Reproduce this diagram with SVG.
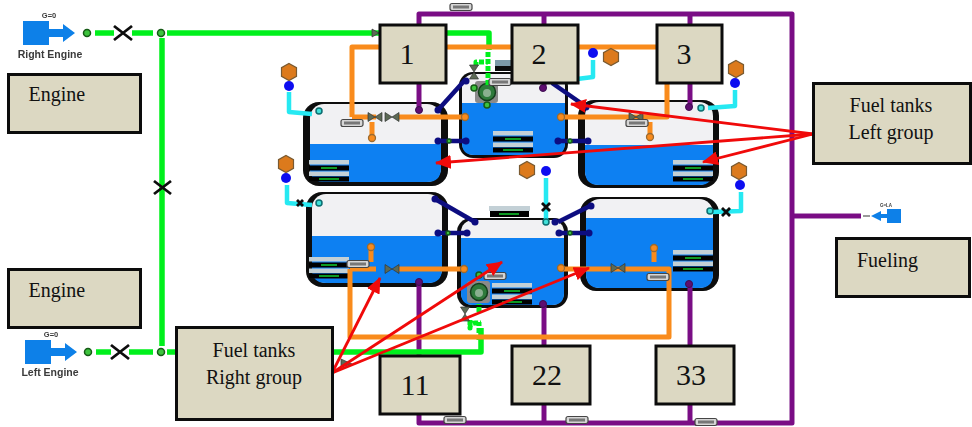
<svg xmlns="http://www.w3.org/2000/svg" width="972" height="427" viewBox="0 0 972 427">
<style>
.sh{filter:url(#soft)}
.tb{fill:#0a0a0a}.te{fill:#f1f1f3}.tw{fill:#0b80f2}
.p{fill:none;stroke-linejoin:round;stroke-linecap:butt}
.gr{stroke:#06f01e;stroke-width:5.500}.or{stroke:#f98b1c;stroke-width:5}.pu{stroke:#7a0f85;stroke-width:5}
.na{stroke:#0b0b80;stroke-width:4.500}.cy{stroke:#25e9f2;stroke-width:4.500}.da{stroke:#06f01e;stroke-width:5;stroke-dasharray:5 2}
.ro{fill:#c3d0d6}.rb{fill:#050505}.rg{fill:#0a9a20}
.pill{fill:#d6d6d6;stroke:#444;stroke-width:1.200}.pi2{fill:#777}
.ng{fill:#3cc33c;stroke:#175a17;stroke-width:1.500}.no{fill:#f98b1c;stroke:#9a6a30;stroke-width:1.300}.npu{fill:#5e0f70;stroke:#3c0a50;stroke-width:1}
.nn{fill:#0b0b80}.nc{fill:#3fe0d8;stroke:#0d6d70;stroke-width:1.500}.nb{fill:#0a0af0}
.hex{fill:#dc7a1e;stroke:#7a5a30;stroke-width:1.200}
.bw{fill:#5c6a55;stroke:#333;stroke-width:.7}
.x{fill:none;stroke:#0c0c0c;stroke-width:2.800}
.eng{fill:#0b80e8}
.sm{font-family:"Liberation Sans",Arial,sans-serif;font-weight:700;fill:#3a3a3a}
.box{fill:#dcd8c2;stroke:#0c0c0c;stroke-width:3}
.lb{font-family:"Liberation Serif","Times New Roman",serif;fill:#111;font-size:20px}
.lg{font-size:30px}.m{text-anchor:middle}
.ar{stroke:#f00a0a;stroke-width:2.800;fill:none}.ah{fill:#f00a0a}
</style>
<defs>
<filter id="soft" x="-5%" y="-5%" width="110%" height="110%"><feGaussianBlur stdDeviation="0.6"/></filter>
<marker id="head" markerUnits="userSpaceOnUse" markerWidth="16" markerHeight="14" refX="15" refY="7" orient="auto"><path class="ah" d="M0 0L16 7L0 14Z"/></marker>
<g id="read"><rect class="ro" width="40" height="4.500"/><rect class="rb" y="5.500" width="40" height="5"/><rect class="rg" x="12" y="7" width="16" height="2"/><rect class="ro" y="11.500" width="40" height="4.500"/><rect class="rb" y="16.500" width="40" height="5"/><rect class="rg" x="10" y="18" width="20" height="2"/></g>
<g id="pill"><rect class="pill" x="-11" y="-3.500" width="22" height="7" rx="2"/><rect class="pi2" x="-8" y="-1.500" width="16" height="3"/></g>
<g id="valve"><path class="bw" d="M-7 -4.500L7 4.500V-4.500L-7 4.500Z"/></g>
<g id="hexn"><path class="hex" d="M0 -8.500L7.500 -4.300V4.300L0 8.500L-7.500 4.300V-4.300Z"/></g>
<g id="pump"><rect x="-12" y="-11" width="23" height="22" rx="3" fill="#8a8a8a"/><circle r="8.500" fill="#2f7a3a" stroke="#143e1c" stroke-width="1.500"/><circle r="4" cy="1" fill="#8ab090"/></g>
</defs>

<g id="tank-left-top" class="sh">
<rect class="tb" x="303" y="102" width="145" height="84" rx="16"/>
<rect class="te" x="310" y="104" width="131" height="78" rx="14"/>
<path class="tw" d="M310 144H441V168Q441 182 427 182H324Q310 182 310 168Z"/>
<use href="#read" x="309" y="160"/>
</g>
<g id="tank-mid-top" class="sh">
<rect class="tb" x="459" y="72" width="109" height="86" rx="14"/>
<rect class="te" x="462" y="74" width="103" height="81" rx="12"/>
<path class="tw" d="M462 103H565V143Q565 155 553 155H474Q462 155 462 143Z"/>
<use href="#read" x="493" y="131"/>
<use href="#pump" x="487" y="92"/>
<circle class="ng" cx="487" cy="105" r="3"/>
</g>
<g id="tank-right-top" class="sh">
<rect class="tb" x="578" y="100" width="141" height="88" rx="16"/>
<rect class="te" x="585" y="102" width="128" height="83" rx="14"/>
<path class="tw" d="M585 145H713V171Q713 185 699 185H599Q585 185 585 171Z"/>
<use href="#read" x="673" y="160"/>
</g>
<g id="tank-left-bottom" class="sh">
<rect class="tb" x="306" y="192" width="142" height="95" rx="16"/>
<rect class="te" x="312" y="194" width="130" height="89" rx="14"/>
<path class="tw" d="M312 236H442V269Q442 283 428 283H326Q312 283 312 269Z"/>
<use href="#read" x="309" y="257"/>
</g>
<g id="tank-mid-bottom" class="sh">
<rect class="tb" x="457" y="218" width="111" height="90" rx="14"/>
<rect class="te" x="461" y="220" width="103" height="85" rx="12"/>
<path class="tw" d="M461 238H564V293Q564 305 552 305H473Q461 305 461 293Z"/>
<rect class="ro" x="489" y="206" width="41" height="5"/><rect class="rb" x="490" y="211" width="39" height="6"/><rect class="rg" x="499" y="213" width="20" height="2"/>
<use href="#read" x="492" y="283"/>
<use href="#pump" x="479" y="292"/>
<circle class="ng" cx="479" cy="275" r="3"/>
</g>
<g id="tank-right-bottom" class="sh">
<rect class="tb" x="580" y="197" width="139" height="94" rx="16"/>
<rect class="te" x="586" y="199" width="127" height="89" rx="14"/>
<path class="tw" d="M586 218H713V274Q713 288 699 288H600Q586 288 586 274Z"/>
<use href="#read" x="673" y="250"/>
</g>

<g id="connectors" class="sh">
<path class="p pu" d="M419 110V14H790M419 282V423H792V14H790M544 14V88M544 304V423M690 14V107M690 284V423M792 216H861"/>
<path class="p gr" d="M95 33H114M132 33H153M167 33H489V50M162 38V346M96 352H111M129 352H153M167 352H481V328"/>
<path class="p da" d="M488 52V86M476 66V62H488M479 340V322M479 312V304M470 320V328Q470 323 475 323H481"/>
<path class="p or" d="M352 117V47H656M352 117H376M398 117H465M372 122V137M667 83V117H561M650 122V136M578 47H656M350 269V337H669V269H560M350 269H376M398 269H464M371 248V262M654 248V262"/>
<path class="p na" d="M438 110L465 80M552 83L588 108M437 141H466M558 141H588M435 199L475 222M590 206L558 222M438 233H467M558 233H589"/>
<path class="p cy" d="M289 92V112L312 114M287 185V203L312 205M735 90V106L708 108M741 192V211L712 212M593 60V77L577 79M546 178V222"/>
<g>
<circle class="ng" cx="87" cy="33" r="3.500"/><circle class="ng" cx="161" cy="33" r="3.500"/><circle class="ng" cx="88" cy="352" r="3.500"/><circle class="ng" cx="161" cy="352" r="3.500"/>
<circle class="ng" cx="474" cy="88" r="3"/><circle class="ng" cx="449" cy="141" r="2"/><circle class="ng" cx="570" cy="141" r="2"/><circle class="ng" cx="448" cy="233" r="2"/><circle class="ng" cx="570" cy="233" r="2"/>
<circle class="no" cx="465" cy="117" r="3.500"/><circle class="no" cx="561" cy="117" r="3.500"/><circle class="no" cx="372" cy="138" r="3.500"/><circle class="no" cx="650" cy="137" r="3.500"/>
<circle class="no" cx="464" cy="269" r="3.500"/><circle class="no" cx="561" cy="268" r="3.500"/><circle class="no" cx="371" cy="247" r="3.500"/><circle class="no" cx="654" cy="248" r="3.500"/>
<circle class="npu" cx="419" cy="110" r="3.500"/><circle class="npu" cx="543" cy="88" r="3.500"/><circle class="npu" cx="689" cy="107" r="3.500"/><circle class="npu" cx="419" cy="282" r="3.500"/><circle class="npu" cx="543" cy="304" r="3.500"/><circle class="npu" cx="689" cy="284" r="3.500"/>
<circle class="nn" cx="438" cy="110" r="3.500"/><circle class="nn" cx="466" cy="81" r="3.500"/><circle class="nn" cx="586" cy="107" r="3.500"/><circle class="nn" cx="438" cy="141" r="3.500"/><circle class="nn" cx="466" cy="141" r="3.500"/><circle class="nn" cx="558" cy="141" r="3.500"/><circle class="nn" cx="588" cy="141" r="3.500"/>
<circle class="nn" cx="435" cy="199" r="3.500"/><circle class="nn" cx="475" cy="222" r="3.500"/><circle class="nn" cx="591" cy="206" r="3.500"/><circle class="nn" cx="555" cy="222" r="3.500"/><circle class="nn" cx="438" cy="233" r="3.500"/><circle class="nn" cx="467" cy="233" r="3.500"/><circle class="nn" cx="559" cy="233" r="3.500"/><circle class="nn" cx="589" cy="233" r="3.500"/>
<circle class="nc" cx="319" cy="111" r="3"/><circle class="nc" cx="319" cy="203" r="3"/><circle class="nc" cx="701" cy="108" r="3"/><circle class="nc" cx="710" cy="211" r="3"/><circle class="nc" cx="546" cy="222" r="3"/>
<circle class="nb" cx="289" cy="86" r="5"/><circle class="nb" cx="286" cy="178" r="5"/><circle class="nb" cx="735" cy="83" r="5"/><circle class="nb" cx="740" cy="185" r="5"/><circle class="nb" cx="593" cy="53" r="5"/><circle class="nb" cx="546" cy="171" r="5"/>
<use href="#hexn" x="289" y="72"/><use href="#hexn" x="286" y="164"/><use href="#hexn" x="736" y="69"/><use href="#hexn" x="739" y="171"/><use href="#hexn" x="611" y="57"/><use href="#hexn" x="527" y="170"/>
<use href="#valve" x="392" y="117"/><use href="#valve" x="375" y="117"/><use href="#valve" x="636" y="117"/><use href="#valve" x="392" y="269"/><use href="#valve" x="618" y="268"/>
<use href="#valve" transform="translate(474 72) rotate(90)"/><use href="#valve" transform="translate(465 314) rotate(90)"/>
<path class="bw" d="M372 29L379 33L372 37Z"/><path class="bw" d="M341 359L352 364L341 367Z"/>
<path class="x" d="M114 26L132 40M132 26L114 40M111 345L129 359M129 345L111 359M154 181L171 194M171 181L154 194"/>
<path class="x" d="M542 203L550 211M550 203L542 211M722 208L730 216M730 208L722 216M297 200L303 206M303 200L297 206"/>
<use href="#pill" x="352" y="123"/><use href="#pill" x="500" y="82"/><use href="#pill" x="637" y="123"/><use href="#pill" x="358" y="264"/><use href="#pill" x="495" y="276"/><use href="#pill" x="658" y="277"/>
<use href="#pill" x="461" y="7"/><use href="#pill" x="455" y="420"/><use href="#pill" x="577" y="420"/><use href="#pill" x="706" y="422"/>
<rect x="495" y="60" width="20" height="6" fill="#7d9aa8"/><rect x="495" y="66" width="20" height="5" fill="#111"/>
</g>
</g>

<g id="engine-right" class="sh">
<rect class="eng" x="23" y="21" width="26" height="24"/><path class="eng" d="M49 29H63V24L75 33L63 42V37H49Z"/>
<text class="sm m" x="49" y="18" font-size="7.500">G=0</text>
<text class="sm m" x="50" y="58" font-size="10.500">Right Engine</text>
</g>
<g id="engine-left" class="sh">
<rect class="eng" x="25" y="340" width="26" height="24"/><path class="eng" d="M51 348H65V343L77 352L65 361V356H51Z"/>
<text class="sm m" x="51" y="337" font-size="7.500">G=0</text>
<text class="sm m" x="50" y="376" font-size="10.500">Left Engine</text>
</g>
<g id="fueling-port" class="sh">
<rect class="eng" x="887" y="209" width="14" height="14"/><path class="eng" d="M887 214H881V211L871 216L881 221V218H887Z"/>
<path d="M863 216H870" stroke="#777" stroke-width="1.500"/>
<text class="sm m" x="886" y="207" font-size="4.500">G=LA</text>
</g>

<g id="arrows">
<path class="ar" marker-end="url(#head)" d="M813 134L571 104"/>
<path class="ar" marker-end="url(#head)" d="M813 134L436 163"/>
<path class="ar" marker-end="url(#head)" d="M813 134L703 162"/>
<path class="ar" marker-end="url(#head)" d="M332 373L380 278"/>
<path class="ar" marker-end="url(#head)" d="M332 373L502 262"/>
<path class="ar" marker-end="url(#head)" d="M332 373L589 268"/>
</g>

<g id="label-1"><rect class="box" x="380" y="25" width="66" height="58"/><text class="lb lg m" x="407" y="64">1</text></g>
<g id="label-2"><rect class="box" x="512" y="25" width="66" height="58"/><text class="lb lg m" x="539" y="64">2</text></g>
<g id="label-3"><rect class="box" x="657" y="25" width="65" height="58"/><text class="lb lg m" x="684" y="64">3</text></g>
<g id="label-11"><rect class="box" x="380" y="356" width="80" height="58"/><text class="lb lg m" x="415" y="395">11</text></g>
<g id="label-22"><rect class="box" x="512" y="346" width="78" height="58"/><text class="lb lg m" x="547" y="385">22</text></g>
<g id="label-33"><rect class="box" x="656" y="346" width="78" height="58"/><text class="lb lg m" x="691" y="385">33</text></g>
<g id="label-engine-top"><rect class="box" x="8.500" y="74.500" width="132" height="58"/><text class="lb" x="28.500" y="101">Engine</text></g>
<g id="label-engine-bottom"><rect class="box" x="8.500" y="269.500" width="132" height="58"/><text class="lb" x="28.500" y="297">Engine</text></g>
<g id="label-fueling"><rect class="box" x="836.500" y="238.500" width="133" height="58"/><text class="lb" x="857" y="267">Fueling</text></g>
<g id="label-left-group"><rect class="box" x="813.500" y="83.500" width="157" height="80"/><text class="lb m" x="891" y="112">Fuel tanks</text><text class="lb m" x="891" y="139">Left group</text></g>
<g id="label-right-group"><rect class="box" x="176.500" y="327.500" width="156" height="92"/><text class="lb m" x="254" y="357">Fuel tanks</text><text class="lb m" x="254" y="384">Right group</text></g>
</svg>
